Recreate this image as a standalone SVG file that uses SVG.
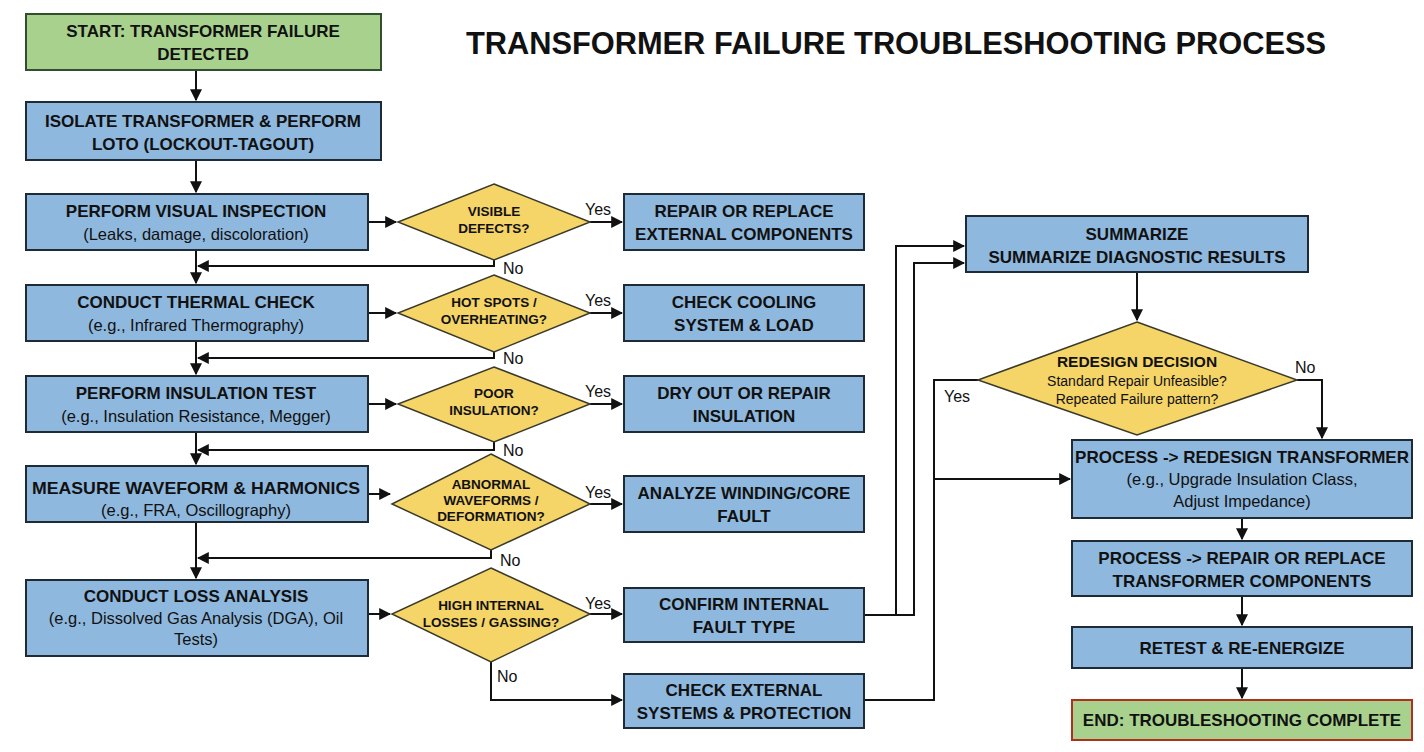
<svg xmlns="http://www.w3.org/2000/svg" width="1424" height="752" viewBox="0 0 1424 752">
<style>
.b{fill:#8fb8de;stroke:#1e2a36;stroke-width:2}
.g{fill:#a9d18e;stroke:#2f4f2f;stroke-width:2}
.ge{fill:#a9d18e;stroke:#b03020;stroke-width:2}
.d{fill:#f5d468;stroke:#3a3a2a;stroke-width:1.5}
text{font-family:"Liberation Sans",Arial,sans-serif;fill:#111;text-anchor:middle}
.t{font-size:17px;font-weight:bold}
.s{font-size:16.5px}
.q{font-size:13.5px;font-weight:bold}
.l{font-size:16px;text-anchor:start}
.c path{fill:none;stroke:#111;stroke-width:2}
</style>
<defs><marker id="a" viewBox="0 0 10 10" refX="9" refY="5" markerWidth="6" markerHeight="6" orient="auto"><path d="M0,0L10,5L0,10z" fill="#111"/></marker></defs>
<rect width="1424" height="752" fill="#fff"/>
<text x="896" y="54" style="font-size:31px;font-weight:bold" textLength="860" lengthAdjust="spacingAndGlyphs">TRANSFORMER FAILURE TROUBLESHOOTING PROCESS</text>
<g class="c">
<path d="M196,70V100" marker-end="url(#a)"/>
<path d="M196,160V192" marker-end="url(#a)"/>
<path d="M196,250V283" marker-end="url(#a)"/>
<path d="M196,341V374" marker-end="url(#a)"/>
<path d="M196,432V464" marker-end="url(#a)"/>
<path d="M196,522V578" marker-end="url(#a)"/>
<path d="M368,222H396" marker-end="url(#a)"/><path d="M590,222H622" marker-end="url(#a)"/>
<path d="M368,313H396" marker-end="url(#a)"/><path d="M590,313H622" marker-end="url(#a)"/>
<path d="M368,404H396" marker-end="url(#a)"/><path d="M590,404H622" marker-end="url(#a)"/>
<path d="M368,494H390" marker-end="url(#a)"/><path d="M590,504H622" marker-end="url(#a)"/>
<path d="M368,614H390" marker-end="url(#a)"/><path d="M590,614H622" marker-end="url(#a)"/>
<path d="M494,260V266H198" marker-end="url(#a)"/>
<path d="M494,352V358H198" marker-end="url(#a)"/>
<path d="M494,442V450H198" marker-end="url(#a)"/>
<path d="M491,550V558H198" marker-end="url(#a)"/>
<path d="M491,662V700H622" marker-end="url(#a)"/>
<path d="M864,615H896V246H964" marker-end="url(#a)"/>
<path d="M864,615H914V263H964" marker-end="url(#a)"/>
<path d="M864,700H934V380H978"/>
<path d="M934,479H1070" marker-end="url(#a)"/>
<path d="M1137,272V320" marker-end="url(#a)"/>
<path d="M1297,380H1322V438" marker-end="url(#a)"/>
<path d="M1242,518V539" marker-end="url(#a)"/>
<path d="M1242,596V625" marker-end="url(#a)"/>
<path d="M1242,668V698" marker-end="url(#a)"/>
</g>
<g id="start"><rect class="g" x="26" y="14" width="355" height="56"/><text class="t" x="203" y="37">START: TRANSFORMER FAILURE</text><text class="t" x="203" y="60">DETECTED</text></g>
<g id="isolate"><rect class="b" x="26" y="102" width="355" height="58"/><text class="t" x="203" y="127">ISOLATE TRANSFORMER &amp; PERFORM</text><text class="t" x="203" y="150">LOTO (LOCKOUT-TAGOUT)</text></g>
<g id="visual"><rect class="b" x="26" y="194" width="342" height="56"/><text class="t" x="196" y="217">PERFORM VISUAL INSPECTION</text><text class="s" x="196" y="240">(Leaks, damage, discoloration)</text></g>
<g id="thermal"><rect class="b" x="26" y="285" width="342" height="56"/><text class="t" x="196" y="308">CONDUCT THERMAL CHECK</text><text class="s" x="196" y="331">(e.g., Infrared Thermography)</text></g>
<g id="insul"><rect class="b" x="26" y="376" width="342" height="56"/><text class="t" x="196" y="399">PERFORM INSULATION TEST</text><text class="s" x="196" y="422">(e.g., Insulation Resistance, Megger)</text></g>
<g id="wave"><rect class="b" x="26" y="466" width="342" height="56"/><text class="t" x="196" y="494" textLength="328" lengthAdjust="spacingAndGlyphs">MEASURE WAVEFORM &amp; HARMONICS</text><text class="s" x="196" y="516">(e.g., FRA, Oscillography)</text></g>
<g id="loss"><rect class="b" x="26" y="580" width="342" height="76"/><text class="t" x="196" y="602">CONDUCT LOSS ANALYSIS</text><text class="s" x="196" y="624">(e.g., Dissolved Gas Analysis (DGA), Oil</text><text class="s" x="196" y="645">Tests)</text></g>
<g id="d1"><path class="d" d="M494,184L590,222L494,260L398,222Z"/><text class="q" x="494" y="216">VISIBLE</text><text class="q" x="494" y="233">DEFECTS?</text></g>
<g id="d2"><path class="d" d="M494,275L590,313L494,352L398,313Z"/><text class="q" x="494" y="307">HOT SPOTS /</text><text class="q" x="494" y="324">OVERHEATING?</text></g>
<g id="d3"><path class="d" d="M494,367L590,404L494,442L398,404Z"/><text class="q" x="494" y="398">POOR</text><text class="q" x="494" y="415">INSULATION?</text></g>
<g id="d4"><path class="d" d="M491,454L590,504L491,550L392,504Z"/><text class="q" x="491" y="489">ABNORMAL</text><text class="q" x="491" y="505">WAVEFORMS /</text><text class="q" x="491" y="521">DEFORMATION?</text></g>
<g id="d5"><path class="d" d="M491,568L590,614L491,662L392,614Z"/><text class="q" x="491" y="610">HIGH INTERNAL</text><text class="q" x="491" y="627">LOSSES / GASSING?</text></g>
<g id="r1"><rect class="b" x="624" y="194" width="240" height="56"/><text class="t" x="744" y="217">REPAIR OR REPLACE</text><text class="t" x="744" y="240">EXTERNAL COMPONENTS</text></g>
<g id="r2"><rect class="b" x="624" y="285" width="240" height="56"/><text class="t" x="744" y="308">CHECK COOLING</text><text class="t" x="744" y="331">SYSTEM &amp; LOAD</text></g>
<g id="r3"><rect class="b" x="624" y="376" width="240" height="56"/><text class="t" x="744" y="399">DRY OUT OR REPAIR</text><text class="t" x="744" y="422">INSULATION</text></g>
<g id="r4"><rect class="b" x="624" y="476" width="240" height="56"/><text class="t" x="744" y="499">ANALYZE WINDING/CORE</text><text class="t" x="744" y="522">FAULT</text></g>
<g id="r5"><rect class="b" x="624" y="588" width="240" height="54"/><text class="t" x="744" y="610">CONFIRM INTERNAL</text><text class="t" x="744" y="633">FAULT TYPE</text></g>
<g id="r6"><rect class="b" x="624" y="674" width="240" height="54"/><text class="t" x="744" y="696">CHECK EXTERNAL</text><text class="t" x="744" y="719">SYSTEMS &amp; PROTECTION</text></g>
<g id="sum"><rect class="b" x="966" y="216" width="342" height="56"/><text class="t" x="1137" y="240">SUMMARIZE</text><text class="t" x="1137" y="263">SUMMARIZE DIAGNOSTIC RESULTS</text></g>
<g id="dr"><path class="d" d="M1137,322L1297,380L1137,435L978,380Z"/><text class="q" x="1137" y="367" style="font-size:15.5px">REDESIGN DECISION</text><text x="1137" y="386" style="font-size:14px">Standard Repair Unfeasible?</text><text x="1137" y="404" style="font-size:14px">Repeated Failure pattern?</text></g>
<g id="red"><rect class="b" x="1072" y="440" width="340" height="78"/><text class="t" x="1242" y="463">PROCESS -&gt; REDESIGN TRANSFORMER</text><text class="s" x="1242" y="485">(e.g., Upgrade Insulation Class,</text><text class="s" x="1242" y="507">Adjust Impedance)</text></g>
<g id="rep"><rect class="b" x="1072" y="541" width="340" height="55"/><text class="t" x="1242" y="564">PROCESS -&gt; REPAIR OR REPLACE</text><text class="t" x="1242" y="587">TRANSFORMER COMPONENTS</text></g>
<g id="ret"><rect class="b" x="1072" y="627" width="340" height="41"/><text class="t" x="1242" y="654">RETEST &amp; RE-ENERGIZE</text></g>
<g id="end"><rect class="ge" x="1072" y="700" width="340" height="40"/><text class="t" x="1242" y="726">END: TROUBLESHOOTING COMPLETE</text></g>
<g id="labels">
<text class="l" x="585" y="215">Yes</text><text class="l" x="503" y="274">No</text>
<text class="l" x="585" y="306">Yes</text><text class="l" x="503" y="364">No</text>
<text class="l" x="585" y="397">Yes</text><text class="l" x="503" y="456">No</text>
<text class="l" x="585" y="498">Yes</text><text class="l" x="500" y="566">No</text>
<text class="l" x="585" y="609">Yes</text><text class="l" x="497" y="682">No</text>
<text class="l" x="944" y="402">Yes</text><text class="l" x="1295" y="373">No</text>
</g>
</svg>
